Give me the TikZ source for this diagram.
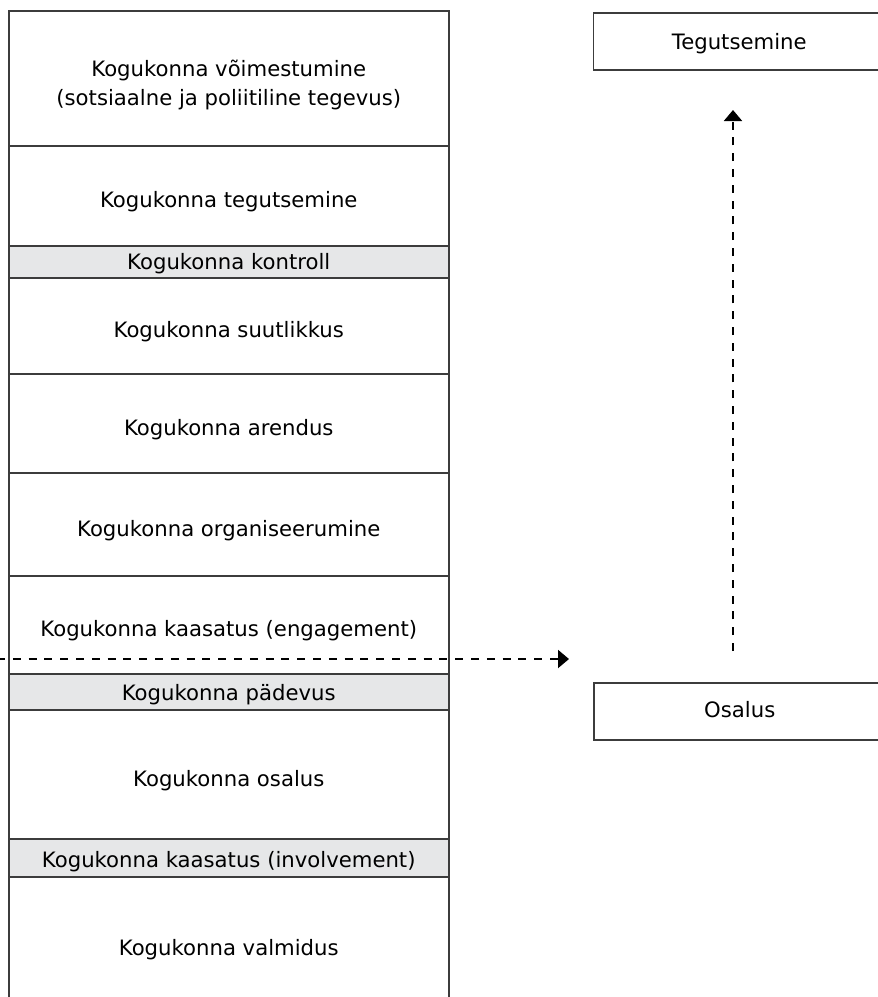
\documentclass[tikz,border=0pt]{standalone}
\usepackage{fontspec}
\setmainfont{DejaVu Sans}
\usetikzlibrary{arrows.meta}
\definecolor{cellgray}{HTML}{E6E7E8}
\definecolor{edge}{HTML}{3C3C3C}
\tikzset{
  cell/.style={draw=edge, line width=0.75pt, minimum width=220pt, anchor=north west,
    inner sep=0pt, align=center, font=\fontsize{10.6pt}{14.25pt}\selectfont,
    text depth=0pt, text height=11.8pt},
  graycell/.style={cell, fill=cellgray},
  sidebox/.style={draw=edge, line width=0.75pt, minimum width=146pt, minimum height=28.5pt,
    anchor=north west, inner sep=0pt, font=\fontsize{10.6pt}{12pt}\selectfont,
    text depth=0pt, text height=7.2pt},
  flow/.style={line width=1pt, dash pattern=on 4pt off 3.9pt,
    -{Triangle[length=5.5pt,width=9pt]}}
}
\begin{document}
\begin{tikzpicture}[x=0.5pt,y=-0.5pt]
\useasboundingbox (0,0) rectangle (878,997);
\fill[white] (0,0) rectangle (878,997);
% left column cells
\node[cell, minimum height=67.5pt, text height=27pt] (c1) at (8,10) {Kogukonna võimestumine\\(sotsiaalne ja poliitiline tegevus)};
\node[cell, minimum height=50pt] (c2) at (8,145) {Kogukonna tegutsemine};
\node[graycell, minimum height=16pt, text height=7.6pt] (c3) at (8,245) {Kogukonna kontroll};
\node[cell, minimum height=48pt] (c4) at (8,277) {Kogukonna suutlikkus};
\node[cell, minimum height=49.5pt] (c5) at (8,373) {Kogukonna arendus};
\node[cell, minimum height=51.5pt] (c6) at (8,472) {Kogukonna organiseerumine};
\node[cell, minimum height=49pt] (c7) at (8,575) {Kogukonna kaasatus (engagement)};
\node[graycell, minimum height=18pt, text height=8.6pt] (c8) at (8,673) {Kogukonna pädevus};
\node[cell, minimum height=64.5pt] (c9) at (8,709) {Kogukonna osalus};
\node[graycell, minimum height=19pt, text height=9.4pt] (c10) at (8,838) {Kogukonna kaasatus (involvement)};
\node[cell, minimum height=66pt, text height=12.5pt] (c11) at (8,876) {Kogukonna valmidus};
% right boxes
\node[sidebox, text height=7.8pt] (teg) at (592.5,12) {Tegutsemine};
\node[sidebox, text height=6.4pt] (osa) at (593,682) {Osalus};
% arrows
\coordinate (hstart) at (-3,659);
\coordinate (hend) at (569,659);
\coordinate (vstart) at (733,651);
\coordinate (vend) at (733,110);
\draw[flow] (hstart) -- (hend);
\draw[flow] (vstart) -- (vend);
\end{tikzpicture}
\end{document}
